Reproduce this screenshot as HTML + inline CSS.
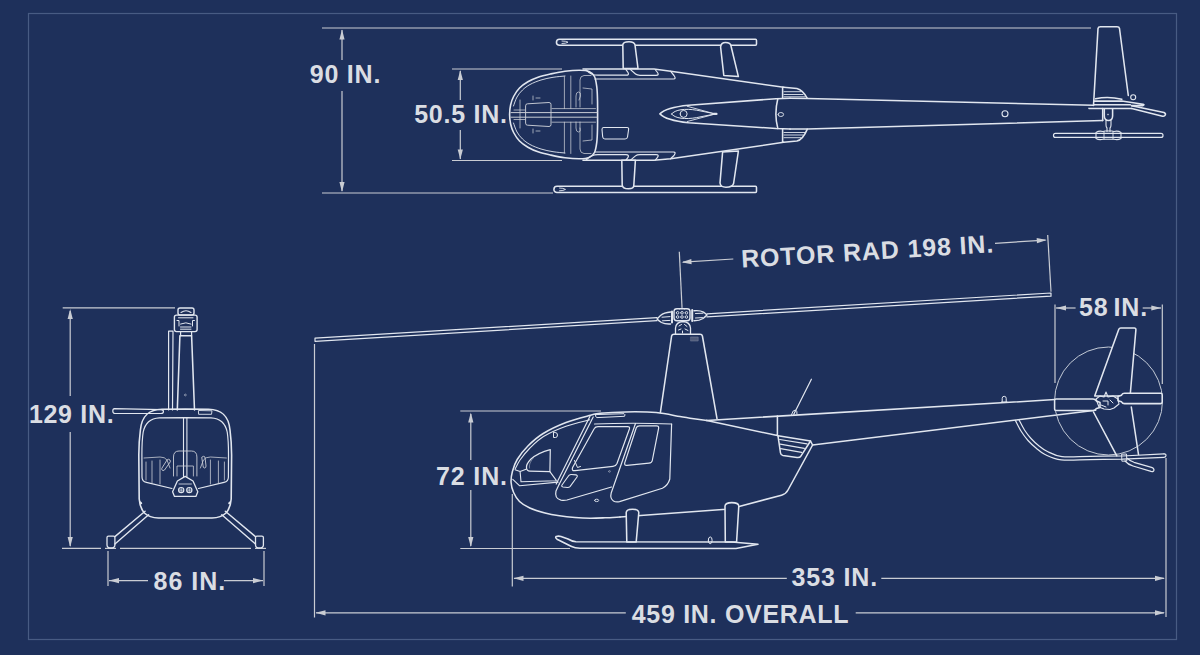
<!DOCTYPE html>
<html><head><meta charset="utf-8"><style>
html,body{margin:0;padding:0;background:#1e305b;}
svg{display:block;}
text{font-family:"Liberation Sans",sans-serif;font-weight:bold;}
</style></head><body>
<svg width="1200" height="655" viewBox="0 0 1200 655">
<rect width="1200" height="655" fill="#1e305b"/>
<rect x="28.5" y="13.5" width="1148" height="626" fill="none" stroke="#485b83" stroke-width="1.2"/>
<line x1="322" y1="28" x2="1091" y2="28" stroke="#c9ccd3" stroke-width="1.2"/>
<line x1="322" y1="193" x2="553" y2="193" stroke="#c9ccd3" stroke-width="1.2"/>
<line x1="342" y1="30" x2="342" y2="60" stroke="#c9ccd3" stroke-width="1.2"/>
<polygon points="342.00,29.50 344.60,39.50 339.40,39.50" fill="#c9ccd3"/>
<line x1="342" y1="91" x2="342" y2="191" stroke="#c9ccd3" stroke-width="1.2"/>
<polygon points="342.00,192.00 339.40,182.00 344.60,182.00" fill="#c9ccd3"/>
<text x="309.7" y="83" font-size="25" letter-spacing="0.8" text-anchor="start" fill="#dadde3">90 IN.</text>
<line x1="452" y1="69" x2="562" y2="69" stroke="#c9ccd3" stroke-width="1.2"/>
<line x1="452" y1="160.5" x2="562" y2="160.5" stroke="#c9ccd3" stroke-width="1.2"/>
<line x1="460.3" y1="71" x2="460.3" y2="100" stroke="#c9ccd3" stroke-width="1.2"/>
<polygon points="460.30,70.00 462.90,80.00 457.70,80.00" fill="#c9ccd3"/>
<line x1="460.3" y1="130" x2="460.3" y2="159" stroke="#c9ccd3" stroke-width="1.2"/>
<polygon points="460.30,159.50 457.70,149.50 462.90,149.50" fill="#c9ccd3"/>
<text x="414.2" y="123.4" font-size="25" letter-spacing="0.74" text-anchor="start" fill="#dadde3">50.5 IN.</text>
<line x1="62.7" y1="307.8" x2="175" y2="307.8" stroke="#c9ccd3" stroke-width="1.2"/>
<line x1="62" y1="548.4" x2="101" y2="548.4" stroke="#c9ccd3" stroke-width="1.2"/>
<line x1="105" y1="548.4" x2="116" y2="548.4" stroke="#c9ccd3" stroke-width="1.2"/>
<line x1="120" y1="548.4" x2="251" y2="548.4" stroke="#c9ccd3" stroke-width="1.2"/>
<line x1="255" y1="548.4" x2="266" y2="548.4" stroke="#c9ccd3" stroke-width="1.2"/>
<line x1="70.2" y1="311" x2="70.2" y2="396" stroke="#c9ccd3" stroke-width="1.2"/>
<polygon points="70.20,309.00 72.80,319.00 67.60,319.00" fill="#c9ccd3"/>
<line x1="70.2" y1="432" x2="70.2" y2="546" stroke="#c9ccd3" stroke-width="1.2"/>
<polygon points="70.20,547.00 67.60,537.00 72.80,537.00" fill="#c9ccd3"/>
<text x="28.9" y="423.3" font-size="25" letter-spacing="0.68" text-anchor="start" fill="#dadde3">129 IN.</text>
<line x1="108" y1="551" x2="108" y2="586" stroke="#c9ccd3" stroke-width="1.2"/>
<line x1="264" y1="551" x2="264" y2="586" stroke="#c9ccd3" stroke-width="1.2"/>
<line x1="109" y1="580.6" x2="148" y2="580.6" stroke="#c9ccd3" stroke-width="1.2"/>
<polygon points="109.00,580.60 119.00,578.00 119.00,583.20" fill="#c9ccd3"/>
<line x1="224" y1="580.6" x2="263" y2="580.6" stroke="#c9ccd3" stroke-width="1.2"/>
<polygon points="263.00,580.60 253.00,583.20 253.00,578.00" fill="#c9ccd3"/>
<text x="153.6" y="590" font-size="25" letter-spacing="1.0" text-anchor="start" fill="#dadde3">86 IN.</text>
<line x1="460.3" y1="411" x2="601" y2="411" stroke="#c9ccd3" stroke-width="1.2"/>
<line x1="460.3" y1="548.5" x2="570" y2="548.5" stroke="#c9ccd3" stroke-width="1.2"/>
<line x1="470.8" y1="414" x2="470.8" y2="460" stroke="#c9ccd3" stroke-width="1.2"/>
<polygon points="470.80,412.50 473.40,422.50 468.20,422.50" fill="#c9ccd3"/>
<line x1="470.8" y1="490" x2="470.8" y2="546" stroke="#c9ccd3" stroke-width="1.2"/>
<polygon points="470.80,547.00 468.20,537.00 473.40,537.00" fill="#c9ccd3"/>
<text x="436" y="484.7" font-size="25" letter-spacing="0.86" text-anchor="start" fill="#dadde3">72 IN.</text>
<line x1="512.3" y1="494" x2="512.3" y2="586.4" stroke="#c9ccd3" stroke-width="1.2"/>
<line x1="1166" y1="458" x2="1166" y2="617" stroke="#c9ccd3" stroke-width="1.2"/>
<line x1="514" y1="578.3" x2="786.8" y2="578.3" stroke="#c9ccd3" stroke-width="1.2"/>
<polygon points="513.50,578.30 523.50,575.70 523.50,580.90" fill="#c9ccd3"/>
<line x1="881.3" y1="578.3" x2="1164" y2="578.3" stroke="#c9ccd3" stroke-width="1.2"/>
<polygon points="1165.00,578.30 1155.00,580.90 1155.00,575.70" fill="#c9ccd3"/>
<text x="791.5" y="586.2" font-size="25" letter-spacing="0.83" text-anchor="start" fill="#dadde3">353 IN.</text>
<line x1="314.5" y1="344" x2="314.5" y2="617.6" stroke="#c9ccd3" stroke-width="1.2"/>
<line x1="316" y1="612.8" x2="625.8" y2="612.8" stroke="#c9ccd3" stroke-width="1.2"/>
<polygon points="315.50,612.80 325.50,610.20 325.50,615.40" fill="#c9ccd3"/>
<line x1="855.7" y1="612.8" x2="1164" y2="612.8" stroke="#c9ccd3" stroke-width="1.2"/>
<polygon points="1165.00,612.80 1155.00,615.40 1155.00,610.20" fill="#c9ccd3"/>
<text x="631.7" y="622.7" font-size="25" letter-spacing="0.71" text-anchor="start" fill="#dadde3">459 IN. OVERALL</text>
<line x1="1055" y1="304.5" x2="1055" y2="383" stroke="#c9ccd3" stroke-width="1.2"/>
<line x1="1162.3" y1="304.5" x2="1162.3" y2="384" stroke="#c9ccd3" stroke-width="1.2"/>
<line x1="1056" y1="308" x2="1075.6" y2="308" stroke="#c9ccd3" stroke-width="1.2"/>
<polygon points="1056.00,308.00 1066.00,305.40 1066.00,310.60" fill="#c9ccd3"/>
<line x1="1142.7" y1="308" x2="1161" y2="308" stroke="#c9ccd3" stroke-width="1.2"/>
<polygon points="1161.30,308.00 1151.30,310.60 1151.30,305.40" fill="#c9ccd3"/>
<text x="1079.1" y="316.4" font-size="25" letter-spacing="0.8" word-spacing="-2.7" text-anchor="start" fill="#dadde3">58 IN.</text>
<line x1="679.3" y1="251.7" x2="682" y2="307" stroke="#c9ccd3" stroke-width="1.2"/>
<line x1="1047.7" y1="235" x2="1051" y2="291.7" stroke="#c9ccd3" stroke-width="1.2"/>
<line x1="683" y1="262.2" x2="733.3" y2="259" stroke="#c9ccd3" stroke-width="1.2"/>
<polygon points="681.50,262.30 691.32,259.10 691.64,264.29" fill="#c9ccd3"/>
<line x1="995" y1="243.3" x2="1045.5" y2="240.1" stroke="#c9ccd3" stroke-width="1.2"/>
<polygon points="1046.80,240.00 1036.98,243.20 1036.66,238.01" fill="#c9ccd3"/>
<text x="741.7" y="267.6" font-size="25" letter-spacing="0.87" text-anchor="start" fill="#dadde3" transform="rotate(-3.48 741.7 267.6)">ROTOR RAD 198 IN.</text>
<path d="M559.5,39.2 H755.5 Q756.5,39.2 756.5,40.5 V44 Q756.5,45.3 755.5,45.3 H559.5 A3.05,3.05 0 0 1 559.5,39.2 Z" fill="none" stroke="#e1e6ef" stroke-width="1.55" stroke-linejoin="round" stroke-linecap="round"/>
<path d="M562,41 Q566,41 568,42.2 Q566,43.5 562,43.5" fill="none" stroke="#e1e6ef" stroke-width="0.9" stroke-linejoin="round" stroke-linecap="round"/>
<path d="M557,186.3 H755.5 Q756.5,186.3 756.5,187.5 V191.3 Q756.5,192.5 755.5,192.5 H557 A3.1,3.1 0 0 1 557,186.3 Z" fill="none" stroke="#e1e6ef" stroke-width="1.55" stroke-linejoin="round" stroke-linecap="round"/>
<path d="M559.5,188 Q563.5,188 565.5,189.4 Q563.5,190.8 559.5,190.8" fill="none" stroke="#e1e6ef" stroke-width="0.9" stroke-linejoin="round" stroke-linecap="round"/>
<path d="M623.2,68.5 L622.8,45 Q623,41.8 629,41.8 Q634.5,41.8 635,45 L638,68.5 Z" fill="#1e305b" stroke="#e1e6ef" stroke-width="1.55" stroke-linejoin="round" stroke-linecap="round"/>
<path d="M723.8,75.4 L720.6,47 Q721,42.5 725.5,42.5 Q730.5,42.5 731,46 L738.4,76.6 Z" fill="#1e305b" stroke="#e1e6ef" stroke-width="1.55" stroke-linejoin="round" stroke-linecap="round"/>
<path d="M621.8,160.3 L622.2,185 Q622.5,188.8 628.5,188.8 Q633.8,188.8 633.8,185.5 L635.4,160.3 Z" fill="#1e305b" stroke="#e1e6ef" stroke-width="1.55" stroke-linejoin="round" stroke-linecap="round"/>
<path d="M722.6,152 L720,183 Q720.5,187.2 726,187.2 Q732.5,187.2 733.6,183.5 L738.4,151 Z" fill="#1e305b" stroke="#e1e6ef" stroke-width="1.55" stroke-linejoin="round" stroke-linecap="round"/>
<path d="M597.60,114.50 C597.60,109.67 597.63,104.58 597.50,100.00 C597.37,95.42 597.30,90.92 596.80,87.00 C596.30,83.08 595.80,79.08 594.50,76.50 C593.20,73.92 591.42,72.55 589.00,71.50 C586.58,70.45 584.00,70.25 580.00,70.20 C576.00,70.15 569.87,70.58 565.00,71.20 C560.13,71.82 555.30,72.90 550.80,73.90 C546.30,74.90 541.82,75.88 538.00,77.20 C534.18,78.52 530.98,80.00 527.90,81.80 C524.82,83.60 521.88,85.55 519.50,88.00 C517.12,90.45 515.08,93.67 513.60,96.50 C512.12,99.33 511.27,102.00 510.60,105.00 C509.93,108.00 509.60,111.33 509.60,114.50 C509.60,117.67 509.93,121.00 510.60,124.00 C511.27,127.00 512.12,129.67 513.60,132.50 C515.08,135.33 517.12,138.55 519.50,141.00 C521.88,143.45 524.82,145.40 527.90,147.20 C530.98,149.00 534.18,150.48 538.00,151.80 C541.82,153.12 546.30,154.10 550.80,155.10 C555.30,156.10 560.13,157.18 565.00,157.80 C569.87,158.42 576.00,158.85 580.00,158.80 C584.00,158.75 586.58,158.55 589.00,157.50 C591.42,156.45 593.20,155.08 594.50,152.50 C595.80,149.92 596.30,145.92 596.80,142.00 C597.30,138.08 597.37,133.58 597.50,129.00 C597.63,124.42 597.60,119.33 597.60,114.50 Z" fill="none" stroke="#e1e6ef" stroke-width="1.6" stroke-linejoin="round" stroke-linecap="round"/>
<path d="M513.50,106.00 C514.08,104.50 515.50,99.67 517.00,97.00 C518.50,94.33 520.33,92.08 522.50,90.00 C524.67,87.92 526.92,86.17 530.00,84.50 C533.08,82.83 537.17,81.20 541.00,80.00 C544.83,78.80 549.00,77.97 553.00,77.30 C557.00,76.63 563.00,76.22 565.00,76.00" fill="none" stroke="#e1e6ef" stroke-width="0.9" stroke-linejoin="round" stroke-linecap="round"/>
<path d="M513.50,123.00 C514.08,124.50 515.50,129.33 517.00,132.00 C518.50,134.67 520.33,136.92 522.50,139.00 C524.67,141.08 526.92,142.83 530.00,144.50 C533.08,146.17 537.17,147.80 541.00,149.00 C544.83,150.20 549.00,151.03 553.00,151.70 C557.00,152.37 563.00,152.78 565.00,153.00" fill="none" stroke="#e1e6ef" stroke-width="0.9" stroke-linejoin="round" stroke-linecap="round"/>
<path d="M583,69 L654,69 L670.7,71.2 L783.7,87.3" fill="none" stroke="#e1e6ef" stroke-width="1.55" stroke-linejoin="round" stroke-linecap="round"/>
<path d="M583,160.3 L654,160.3 L670.7,158.7 L783.7,142.3" fill="none" stroke="#e1e6ef" stroke-width="1.55" stroke-linejoin="round" stroke-linecap="round"/>
<path d="M586,69.8 Q591,75.2 598,75.2 L626,75.2 Q629.5,75.2 628,72.5 L626,69.6  M630.5,69.6 L635.5,74 Q637,75.3 640,75.3 L656,75.3 Q659.5,75.3 657.5,72.5 L655.5,70  M595,79 L673.5,79 Q676.5,79 674,75.5 L670.5,71.2" fill="none" stroke="#e1e6ef" stroke-width="1.2" stroke-linejoin="round" stroke-linecap="round"/>
<path d="M586,160.1 Q591,154.7 598,154.7 L626,154.7 Q629.5,154.7 628,157.4 L626,160.1  M630.5,160.1 L635.5,155.9 Q637,154.6 640,154.6 L656,154.6 Q659.5,154.6 657.5,157.4 L655.5,159.9  M595,152 L673.5,152 Q676.5,152 674,155.5 L670.5,158.8" fill="none" stroke="#e1e6ef" stroke-width="1.2" stroke-linejoin="round" stroke-linecap="round"/>
<path d="M790,98.2 L776,98.75 L688.5,105.2 C675,106.5 665,108.5 659.9,113.9 C665,119.3 675,121.3 688.5,122.7 L776,128.5 L790,129.1" fill="none" stroke="#e1e6ef" stroke-width="1.55" stroke-linejoin="round" stroke-linecap="round"/>
<path d="M777.8,98.75 Q774,114 777.8,128.5" fill="none" stroke="#e1e6ef" stroke-width="1.55" stroke-linejoin="round" stroke-linecap="round"/>
<path d="M671.6,114 C675,109.5 685,108.3 696.7,110.2 L715.3,113.9 L696.7,117.6 C685,119.6 675,118.5 671.6,114 Z" fill="none" stroke="#e1e6ef" stroke-width="1.0" stroke-linejoin="round" stroke-linecap="round"/>
<path d="M687.3,106.3 L715.3,114 L687.3,121.5" fill="none" stroke="#e1e6ef" stroke-width="0.9" stroke-linejoin="round" stroke-linecap="round"/>
<path d="M680.1,113.9 a3.5,3.5 0 1 0 7,0 a3.5,3.5 0 1 0 -7,0" fill="none" stroke="#e1e6ef" stroke-width="1.0" stroke-linejoin="round" stroke-linecap="round"/>
<path d="M713.5,113.9 L716.5,113.9" fill="none" stroke="#e1e6ef" stroke-width="2.2" stroke-linejoin="round" stroke-linecap="round"/>
<path d="M778,114.5 a2.8,2 0 1 0 5.6,0 a2.8,2 0 1 0 -5.6,0" fill="none" stroke="#e1e6ef" stroke-width="0.9" stroke-linejoin="round" stroke-linecap="round"/>
<path d="M782.6,87.3 L782.6,98.3 M783.7,87.3 L796.9,88.4 Q803,90 807.3,98.3" fill="none" stroke="#e1e6ef" stroke-width="1.55" stroke-linejoin="round" stroke-linecap="round"/>
<path d="M784,91.7 L801,91.7 M784,94.5 L803,94.5 M784,96.8 L805,96.8" fill="none" stroke="#e1e6ef" stroke-width="0.9" stroke-linejoin="round" stroke-linecap="round"/>
<path d="M782.6,129.1 L782.6,141.7 M783.7,142.2 L796.9,141.1 Q803,139.5 807.3,129.1" fill="none" stroke="#e1e6ef" stroke-width="1.55" stroke-linejoin="round" stroke-linecap="round"/>
<path d="M784,132.5 L805,132.5 M784,135 L803,135 M784,137.7 L801,137.7" fill="none" stroke="#e1e6ef" stroke-width="0.9" stroke-linejoin="round" stroke-linecap="round"/>
<path d="M790,98.2 L807.3,98.5 L1093.5,105.3" fill="none" stroke="#e1e6ef" stroke-width="1.55" stroke-linejoin="round" stroke-linecap="round"/>
<path d="M790,129.1 L807.3,128.9 L1102.7,120.6" fill="none" stroke="#e1e6ef" stroke-width="1.55" stroke-linejoin="round" stroke-linecap="round"/>
<path d="M1002,113.8 a3,3 0 1 0 6,0 a3,3 0 1 0 -6,0" fill="none" stroke="#e1e6ef" stroke-width="1.1" stroke-linejoin="round" stroke-linecap="round"/>
<path d="M1093.5,105.5 L1098,28.5 Q1098.3,26.7 1100.5,26.7 L1117,26.7 Q1119.2,26.7 1119.5,28.5 L1128.3,95.5" fill="none" stroke="#e1e6ef" stroke-width="1.55" stroke-linejoin="round" stroke-linecap="round"/>
<path d="M1095.6,98.8 Q1108,95.8 1121.8,99.3" fill="none" stroke="#e1e6ef" stroke-width="1.55" stroke-linejoin="round" stroke-linecap="round"/>
<path d="M1094.2,101.1 L1121.8,101.1 L1143,104.2 Q1145,104.8 1143,105.6 L1131.5,105.6 M1094.2,104.8 L1130.3,104.8" fill="none" stroke="#e1e6ef" stroke-width="1.55" stroke-linejoin="round" stroke-linecap="round"/>
<path d="M1089,108.4 L1131.7,108.5" fill="none" stroke="#e1e6ef" stroke-width="1.55" stroke-linejoin="round" stroke-linecap="round"/>
<path d="M1131.7,105.7 L1164,112.5 Q1166,113.4 1165.3,115 Q1164.6,116.6 1162.5,116.2 L1131.7,108.5" fill="none" stroke="#e1e6ef" stroke-width="1.55" stroke-linejoin="round" stroke-linecap="round"/>
<path d="M1130.7,97.2 a2.5,2.5 0 1 0 5,0 a2.5,2.5 0 1 0 -5,0" fill="none" stroke="#e1e6ef" stroke-width="1.1" stroke-linejoin="round" stroke-linecap="round"/>
<path d="M1102.7,108.5 L1102.7,120.6" fill="none" stroke="#e1e6ef" stroke-width="1.55" stroke-linejoin="round" stroke-linecap="round"/>
<path d="M1104.3,108.7 L1104.3,116 Q1104.5,120.5 1108.5,120.5 Q1112.5,120.5 1112.6,116 L1112.6,108.7" fill="none" stroke="#e1e6ef" stroke-width="1.55" stroke-linejoin="round" stroke-linecap="round"/>
<path d="M1106,120.5 L1106,125 Q1106,127 1107,128 L1107,131.5 M1111,120.5 L1111,125 Q1111,127 1110,128 L1110,131.5" fill="none" stroke="#e1e6ef" stroke-width="1.1" stroke-linejoin="round" stroke-linecap="round"/>
<path d="M1107.6,114.5 l0.8,0" fill="none" stroke="#9aa3b8" stroke-width="1.5" stroke-linejoin="round" stroke-linecap="round"/>
<path d="M1055.5,133.4 H1161 Q1163,133.4 1163,135.4 Q1163,137.4 1161,137.4 H1055.5 Q1053.5,137.4 1053.5,135.4 Q1053.5,133.4 1055.5,133.4 Z" fill="none" stroke="#e1e6ef" stroke-width="1.2" stroke-linejoin="round" stroke-linecap="round"/>
<path d="M1096,132.5 Q1099,130.5 1103,131.5 L1105,131 L1112,131 L1114,131.5 Q1118,130.5 1121,132.5 L1121,138.5 Q1118,140.3 1114,139.3 L1103,139.3 Q1099,140.3 1096,138.5 Z" fill="none" stroke="#e1e6ef" stroke-width="1.1" stroke-linejoin="round" stroke-linecap="round"/>
<path d="M1104,131.5 L1104,139 M1113,131.5 L1113,139" fill="none" stroke="#e1e6ef" stroke-width="0.9" stroke-linejoin="round" stroke-linecap="round"/>
<path d="M552,108.6 L595.5,108.6 M552,122.2 L595.5,122.2" fill="none" stroke="#c9cdd6" stroke-width="0.75" stroke-linejoin="round" stroke-linecap="round"/>
<path d="M511,112.6 L597,112.6 M511,117.2 L597,117.2" fill="none" stroke="#c9cdd6" stroke-width="1.0" stroke-linejoin="round" stroke-linecap="round"/>
<path d="M525.6,105.5 Q525.6,103.8 527.5,103.8 L549,102.5 Q551,102.5 551,104.5 L551,124.5 Q551,126.5 549,126.5 L527.5,125.2 Q525.6,125.2 525.6,123.5 Z" fill="none" stroke="#c9cdd6" stroke-width="0.95" stroke-linejoin="round" stroke-linecap="round"/>
<path d="M564.4,76.6 L564.4,108.6 M570.8,76 L570.8,108.6 M564.4,122.2 L564.4,153 M570.8,122.2 L570.8,153.5" fill="none" stroke="#c9cdd6" stroke-width="0.75" stroke-linejoin="round" stroke-linecap="round"/>
<path d="M580,107 L580,80 Q580,76 584,75.5 L591,75.5 M580,122 L580,149 Q580,153 584,153.5 L591,153.5" fill="none" stroke="#c9cdd6" stroke-width="0.75" stroke-linejoin="round" stroke-linecap="round"/>
<path d="M583,88 L592,89 L592,104 M583,141 L592,140 L592,125" fill="none" stroke="#c9cdd6" stroke-width="0.75" stroke-linejoin="round" stroke-linecap="round"/>
<path d="M576,107 L576,96 Q576,92 578.5,92 Q581,92 580.5,96 L579,100 M576,122 L576,128 Q576,132 578.5,132 Q581,132 580,128" fill="none" stroke="#c9cdd6" stroke-width="0.75" stroke-linejoin="round" stroke-linecap="round"/>
<path d="M533,100 L533,96 M536,98 L540,98 M533,129 L533,133 M536,131 L540,131" fill="none" stroke="#c9cdd6" stroke-width="0.75" stroke-linejoin="round" stroke-linecap="round"/>
<path d="M520,100 L520,128 M514,110 L525,110 M514,119.5 L525,119.5" fill="none" stroke="#c9cdd6" stroke-width="0.75" stroke-linejoin="round" stroke-linecap="round"/>
<path d="M603.5,127.5 L627,127.5 Q629,127.5 628.6,129.5 L627.5,137 Q627.2,139 625,139 L605,139 Q603,139 602.7,137 L602,129.5 Q602,127.5 603.5,127.5 Z" fill="none" stroke="#e1e6ef" stroke-width="1.1" stroke-linejoin="round" stroke-linecap="round"/>
<path d="M706.80,420.40 C704.00,420.03 694.47,418.83 690.00,418.20 C685.53,417.57 685.62,417.55 680.00,416.60 C674.38,415.65 665.33,413.28 656.30,412.50 C647.27,411.72 635.18,411.78 625.80,411.90 C616.42,412.02 605.88,412.65 600.00,413.20 C594.12,413.75 596.17,413.65 590.50,415.20 C584.83,416.75 573.88,419.45 566.00,422.50 C558.12,425.55 549.55,429.58 543.20,433.50 C536.85,437.42 532.23,441.67 527.90,446.00 C523.57,450.33 519.78,455.25 517.20,459.50 C514.62,463.75 513.42,467.67 512.40,471.50 C511.38,475.33 510.90,479.00 511.10,482.50 C511.30,486.00 512.20,489.33 513.60,492.50 C515.00,495.67 516.80,498.92 519.50,501.50 C522.20,504.08 525.55,506.08 529.80,508.00 C534.05,509.92 540.05,511.70 545.00,513.00 C549.95,514.30 554.50,515.05 559.50,515.80 C564.50,516.55 569.92,517.10 575.00,517.50 C580.08,517.90 585.00,518.15 590.00,518.20 C595.00,518.25 600.00,518.00 605.00,517.80 C610.00,517.60 617.50,517.13 620.00,517.00" fill="none" stroke="#e1e6ef" stroke-width="1.55" stroke-linejoin="round" stroke-linecap="round"/>
<path d="M620,517 L726,509.3 L740,506.2 L781.5,495.2 Q786,494 788,490 L812.6,445" fill="none" stroke="#e1e6ef" stroke-width="1.55" stroke-linejoin="round" stroke-linecap="round"/>
<path d="M706.8,420.4 L1055,399.6" fill="none" stroke="#e1e6ef" stroke-width="1.55" stroke-linejoin="round" stroke-linecap="round"/>
<path d="M810.5,441 L812.6,445 L1095.7,410.3" fill="none" stroke="#e1e6ef" stroke-width="1.55" stroke-linejoin="round" stroke-linecap="round"/>
<path d="M706.8,420.4 L777.4,435.6 M777.4,416 L777.4,435.6" fill="none" stroke="#e1e6ef" stroke-width="1.55" stroke-linejoin="round" stroke-linecap="round"/>
<path d="M778,435.8 L810.5,441 L800.7,456.3 Q799.8,457.7 797,457.4 L783,455.6 Q780.8,455.2 780.5,453 Z" fill="none" stroke="#e1e6ef" stroke-width="1.55" stroke-linejoin="round" stroke-linecap="round"/>
<path d="M779.7,439.5 L807,443.9 M780.2,444.1 L804.3,448.4 M780.6,448.7 L801.6,452.3" fill="none" stroke="#e1e6ef" stroke-width="1.2" stroke-linejoin="round" stroke-linecap="round"/>
<path d="M793.8,414.3 L811.4,379.2" fill="none" stroke="#e1e6ef" stroke-width="1.2" stroke-linejoin="round" stroke-linecap="round"/>
<path d="M791.5,414.5 Q793,409.5 795.5,410 Q797.5,411 797,414" fill="none" stroke="#e1e6ef" stroke-width="1.0" stroke-linejoin="round" stroke-linecap="round"/>
<path d="M660.4,412.4 L671.6,336 Q672,334.3 674,334.3 L700,334.3 Q702,334.3 702.4,336 L717,418.7" fill="none" stroke="#e1e6ef" stroke-width="1.55" stroke-linejoin="round" stroke-linecap="round"/>
<path d="M690.8,337 h7.4 v4 h-7.4 Z" fill="#4f5b7a" stroke="#7d87a0" stroke-width="0.5" stroke-linejoin="round" stroke-linecap="round"/>
<path d="M675.5,334.3 L675.5,328 Q676,322 683,321.5 Q690,322 690.5,328 L690.5,334.3" fill="none" stroke="#e1e6ef" stroke-width="1.3" stroke-linejoin="round" stroke-linecap="round"/>
<path d="M679,326 L681.5,324.5 M684.5,324.5 L687,326.5 M678.5,330 L681,329 M685,329 L688,330.5 M682.5,331 l0,2" fill="none" stroke="#e1e6ef" stroke-width="1.0" stroke-linejoin="round" stroke-linecap="round"/>
<path d="M674,318 L674,311.5 Q674,308.8 677,308.8 L687,308.8 Q690,308.8 690,311.5 L690,318 Q690,320.7 687,320.7 L677,320.7 Q674,320.7 674,318 Z" fill="none" stroke="#e1e6ef" stroke-width="1.4" stroke-linejoin="round" stroke-linecap="round"/>
<path d="M676.3,312.8 a1.3,1.3 0 1 0 2.6,0 a1.3,1.3 0 1 0 -2.6,0 M680.7,312.8 a1.3,1.3 0 1 0 2.6,0 a1.3,1.3 0 1 0 -2.6,0 M685.1,312.8 a1.3,1.3 0 1 0 2.6,0 a1.3,1.3 0 1 0 -2.6,0 M676.3,317 a1.3,1.3 0 1 0 2.6,0 a1.3,1.3 0 1 0 -2.6,0 M680.7,317 a1.3,1.3 0 1 0 2.6,0 a1.3,1.3 0 1 0 -2.6,0 M685.1,317 a1.3,1.3 0 1 0 2.6,0 a1.3,1.3 0 1 0 -2.6,0" fill="none" stroke="#e1e6ef" stroke-width="0.9" stroke-linejoin="round" stroke-linecap="round"/>
<path d="M679.5,308.8 Q682,306.5 684.5,308.8" fill="none" stroke="#e1e6ef" stroke-width="1.0" stroke-linejoin="round" stroke-linecap="round"/>
<path d="M672,311.5 L672,322.5 M692.2,310 L692.2,321" fill="none" stroke="#e1e6ef" stroke-width="2.0" stroke-linejoin="round" stroke-linecap="round"/>
<path d="M670.5,312 Q664,312.5 660.5,315.5 Q658.5,317.5 657,319 Q659,321 661.5,322.5 Q665,324.3 670.5,324" fill="none" stroke="#e1e6ef" stroke-width="1.4" stroke-linejoin="round" stroke-linecap="round"/>
<path d="M662,317.2 L670,316.6 M662.5,320.8 L670,320.4" fill="none" stroke="#e1e6ef" stroke-width="1.0" stroke-linejoin="round" stroke-linecap="round"/>
<path d="M694,310.8 Q700,310.2 703.5,312.2 Q705.5,313.5 707,315 Q705.5,316.5 703,318.5 Q699.5,320.8 694,320.8" fill="none" stroke="#e1e6ef" stroke-width="1.4" stroke-linejoin="round" stroke-linecap="round"/>
<path d="M695.5,313.5 L703,313.2 M695.5,318 L702.5,317.6" fill="none" stroke="#e1e6ef" stroke-width="1.0" stroke-linejoin="round" stroke-linecap="round"/>
<path d="M315,338.2 L657,317.6 M315,341.3 L657,320.7 M315,338.2 L315,341.3" fill="none" stroke="#e1e6ef" stroke-width="1.2" stroke-linejoin="round" stroke-linecap="round"/>
<path d="M707,313.8 L1051,293 M707,316.9 L1051,296.1 M1051,293 L1051,296.1" fill="none" stroke="#e1e6ef" stroke-width="1.2" stroke-linejoin="round" stroke-linecap="round"/>
<path d="M589.70,419.80 C585.75,420.87 573.70,423.42 566.00,426.20 C558.30,428.98 549.58,432.78 543.50,436.50 C537.42,440.22 533.42,444.58 529.50,448.50 C525.58,452.42 522.38,456.58 520.00,460.00 C517.62,463.42 516.00,467.50 515.20,469.00" fill="none" stroke="#e1e6ef" stroke-width="1.1" stroke-linejoin="round" stroke-linecap="round"/>
<path d="M550.3,449.6 C543,451.5 536,454.5 531,459 C527,463 526,466 526.5,468.4 Q527,471 529.7,471.1 L549.9,471.6 Z" fill="none" stroke="#e1e6ef" stroke-width="1.2" stroke-linejoin="round" stroke-linecap="round"/>
<path d="M533,458.5 C530,462 529,465 529.5,468" fill="none" stroke="#9aa3b8" stroke-width="0.7" stroke-linejoin="round" stroke-linecap="round"/>
<path d="M549.9,471.6 L556.3,480.3 M515.1,469.8 L520.1,471.6 L526.1,469.3 M520.1,471.6 L521,481.7 L556.3,480.7 M512.8,479.4 L519.7,485.8 L558.1,482.1" fill="none" stroke="#e1e6ef" stroke-width="1.1" stroke-linejoin="round" stroke-linecap="round"/>
<path d="M553.5,432.5 L553.5,437.5 L555.5,437.5 Q557.5,437.5 557.5,435 Q557.5,432.5 555.5,432.5 Z" fill="none" stroke="#e1e6ef" stroke-width="1.0" stroke-linejoin="round" stroke-linecap="round"/>
<path d="M590,416.2 L556.2,484 M593.2,417 L559.3,484" fill="none" stroke="#e1e6ef" stroke-width="1.2" stroke-linejoin="round" stroke-linecap="round"/>
<path d="M559.3,484 L556,491 Q554.2,498.5 561,500.2 Q564,500.8 567,500 L611.5,487" fill="none" stroke="#e1e6ef" stroke-width="1.2" stroke-linejoin="round" stroke-linecap="round"/>
<path d="M594.5,424 Q633,422.5 671.6,424" fill="none" stroke="#e1e6ef" stroke-width="1.2" stroke-linejoin="round" stroke-linecap="round"/>
<path d="M635.5,423.5 L611.2,493 Q609.8,498.5 613.5,501 Q616,502.5 619.5,501.6 L662.4,488.2 Q668,485.5 669.8,479 L671.6,424" fill="none" stroke="#e1e6ef" stroke-width="1.2" stroke-linejoin="round" stroke-linecap="round"/>
<path d="M598,426.6 L627.5,426.6 Q630.2,426.6 629.4,429 L617,463.5 Q616,466 613,466.3 L575,470.6 Q571.3,471 572.6,467.5 L594.3,428.5 Q595.3,426.6 598,426.6 Z" fill="none" stroke="#e1e6ef" stroke-width="1.2" stroke-linejoin="round" stroke-linecap="round"/>
<path d="M639.5,425.8 L656.5,425.8 Q659,425.8 658.6,428.3 L652.3,460.5 Q651.8,463 649,463.2 L627,465.3 Q624,465.6 624.8,462.6 L636.3,427.8 Q637,425.8 639.5,425.8 Z" fill="none" stroke="#e1e6ef" stroke-width="1.2" stroke-linejoin="round" stroke-linecap="round"/>
<path d="M595.5,414.6 L624,413.7 Q625.8,414.5 624.5,416.3 L597,417.6 Q595,417.2 595.5,414.6 Z" fill="none" stroke="#e1e6ef" stroke-width="1.0" stroke-linejoin="round" stroke-linecap="round"/>
<path d="M571.5,474.5 L576,474.9 Q578,475.3 577,477 L570,486.6 Q569,487.6 567.5,487.5 L563,487 Q561,486.6 562,485 L569,475.3 Q570,474.4 571.5,474.5 Z" fill="none" stroke="#e1e6ef" stroke-width="1.1" stroke-linejoin="round" stroke-linecap="round"/>
<path d="M574.5,460.5 L577.5,467.5 L580.5,466.5" fill="none" stroke="#e1e6ef" stroke-width="1.0" stroke-linejoin="round" stroke-linecap="round"/>
<path d="M594.5,500.4 a2.1,1.2 0 1 0 4.2,0 a2.1,1.2 0 1 0 -4.2,0" fill="none" stroke="#e1e6ef" stroke-width="0.9" stroke-linejoin="round" stroke-linecap="round"/>
<path d="M608.6,471.4 a0.9,0.9 0 1 0 1.8,0 a0.9,0.9 0 1 0 -1.8,0" fill="none" stroke="#9aa3b8" stroke-width="0.7" stroke-linejoin="round" stroke-linecap="round"/>
<path d="M626.8,541.9 L626.2,512.5 Q626.5,509.3 632.5,509.3 Q638.5,509.3 638.8,512.5 L636.2,541.9 Z" fill="#1e305b" stroke="#e1e6ef" stroke-width="1.55" stroke-linejoin="round" stroke-linecap="round"/>
<path d="M725.3,541.9 L725,506 Q725.5,502.6 731.8,502.6 Q738.6,502.6 738.8,506 L736.6,541.9 Z" fill="#1e305b" stroke="#e1e6ef" stroke-width="1.55" stroke-linejoin="round" stroke-linecap="round"/>
<path d="M556,536.6 Q558,535.8 561,536.4 L568,539 Q572,541.5 576,541.7 L732,541.9 L758,544.3 M556,536.6 Q555,537.7 557,539.2 L571,546.3 Q575,548.3 580,548.3 L736,548.4 L758,544.3" fill="none" stroke="#e1e6ef" stroke-width="1.55" stroke-linejoin="round" stroke-linecap="round"/>
<path d="M708.3,540.3 a1.9,3.4 0 1 0 3.8,0 a1.9,3.4 0 1 0 -3.8,0" fill="none" stroke="#e1e6ef" stroke-width="1.0" stroke-linejoin="round" stroke-linecap="round"/>
<path d="M1054.5,401 a54,54 0 1 0 108,0 a54,54 0 1 0 -108,0" fill="none" stroke="#c3cad6" stroke-width="1.0" stroke-linejoin="round" stroke-linecap="round"/>
<path d="M1094.7,396 L1118.8,329.3 Q1119.3,328 1120.8,328 L1134.3,328 Q1136,328 1135.9,329.8 L1130.1,396 Z" fill="#1e305b" stroke="#e1e6ef" stroke-width="1.55" stroke-linejoin="round" stroke-linecap="round"/>
<path d="M1093.5,412 L1116.8,455.8 M1138.5,454.5 L1131.3,407" fill="none" stroke="#e1e6ef" stroke-width="1.55" stroke-linejoin="round" stroke-linecap="round"/>
<path d="M1056,399 L1093,399 Q1095,399 1096.5,401 L1100,402.5 L1100,407.5 L1096.5,408.5 Q1095,410.5 1093,410.5 L1056,410.5 Q1054.6,410.5 1054.6,409 L1054.6,400.5 Q1054.6,399 1056,399 Z" fill="#1e305b" stroke="#e1e6ef" stroke-width="1.55" stroke-linejoin="round" stroke-linecap="round"/>
<path d="M1124.5,393.3 L1160.7,393.3 Q1162.2,393.3 1162.2,394.8 L1162.2,402.1 Q1162.2,403.6 1160.7,403.6 L1124.5,403.6 Q1122.5,403.6 1121.5,401.8 L1118,400.8 L1118,396.5 L1121.5,395.2 Q1122.5,393.3 1124.5,393.3 Z" fill="#1e305b" stroke="#e1e6ef" stroke-width="1.55" stroke-linejoin="round" stroke-linecap="round"/>
<path d="M1096,399 L1100,396 L1104,397 L1106,392 L1108,397 L1113,396 L1118,399 L1119,404 L1114,408 L1110,409.5 L1104,409 L1099,407 Z" fill="none" stroke="#e1e6ef" stroke-width="1.1" stroke-linejoin="round" stroke-linecap="round"/>
<path d="M1103,401 L1108,401 L1108,405 M1110,400 L1113,403 M1101,405 L1106,407" fill="none" stroke="#e1e6ef" stroke-width="1.0" stroke-linejoin="round" stroke-linecap="round"/>
<path d="M1015.50,420.60 C1016.42,422.33 1018.92,427.68 1021.00,431.00 C1023.08,434.32 1025.50,437.67 1028.00,440.50 C1030.50,443.33 1033.17,445.67 1036.00,448.00 C1038.83,450.33 1040.78,452.52 1045.00,454.50 C1049.22,456.48 1053.80,459.05 1061.30,459.90 C1068.80,460.75 1079.80,459.72 1090.00,459.60 C1100.20,459.48 1117.08,459.27 1122.50,459.20 L1164,457.3 Q1166,457.2 1166,455.5 Q1166,453.7 1164,453.8" fill="none" stroke="#e1e6ef" stroke-width="1.2" stroke-linejoin="round" stroke-linecap="round"/>
<path d="M1019.20,420.20 C1020.08,421.83 1022.53,426.95 1024.50,430.00 C1026.47,433.05 1028.67,435.92 1031.00,438.50 C1033.33,441.08 1035.83,443.37 1038.50,445.50 C1041.17,447.63 1043.08,449.45 1047.00,451.30 C1050.92,453.15 1054.83,455.77 1062.00,456.60 C1069.17,457.43 1079.92,456.40 1090.00,456.30 C1100.08,456.20 1117.08,456.05 1122.50,456.00 L1164,453.8" fill="none" stroke="#e1e6ef" stroke-width="1.2" stroke-linejoin="round" stroke-linecap="round"/>
<path d="M1122,454.2 L1126.5,454 L1126.8,461 L1122.3,461.2 Z" fill="none" stroke="#e1e6ef" stroke-width="1.0" stroke-linejoin="round" stroke-linecap="round"/>
<path d="M1125,461 Q1128,464.5 1133,466 L1151,471.4 Q1153.8,472 1154,470 Q1154,468 1151.5,467.3 L1134,462.3 Q1130,461 1127.5,458.5" fill="none" stroke="#e1e6ef" stroke-width="1.2" stroke-linejoin="round" stroke-linecap="round"/>
<path d="M1002.2,402 L1002.2,398.3 Q1002.2,396.3 1004.2,396.3 Q1006.2,396.3 1006.2,398.3 L1006.2,402 M1001.5,402 L1007,402" fill="none" stroke="#e1e6ef" stroke-width="1.0" stroke-linejoin="round" stroke-linecap="round"/>
<path d="M114.5,408.7 L161,409.6 Q163.5,409.8 163.5,411.5 Q163.5,413.4 161,413.5 L114.5,413.3 Q112.8,413.2 112.8,411 Q112.8,408.7 114.5,408.7 Z" fill="none" stroke="#e1e6ef" stroke-width="1.2" stroke-linejoin="round" stroke-linecap="round"/>
<path d="M168.6,410 L168.6,331.2 L173,331.2 L172.5,410" fill="none" stroke="#e1e6ef" stroke-width="1.2" stroke-linejoin="round" stroke-linecap="round"/>
<path d="M177.3,410 L179.9,335.7 M194.5,410 L191.6,335.7 M179.9,335.7 L191.6,335.7" fill="none" stroke="#e1e6ef" stroke-width="1.55" stroke-linejoin="round" stroke-linecap="round"/>
<path d="M184.5,395 a0.9,0.9 0 1 0 1.8,0 a0.9,0.9 0 1 0 -1.8,0" fill="none" stroke="#9aa3b8" stroke-width="0.8" stroke-linejoin="round" stroke-linecap="round"/>
<path d="M180.6,331.6 L180.6,335.7 M191.6,331.6 L191.6,335.7" fill="none" stroke="#e1e6ef" stroke-width="1.2" stroke-linejoin="round" stroke-linecap="round"/>
<path d="M176.5,315.1 L195,315.1 Q197.1,315.1 197.1,317.2 L197.1,329.5 Q197.1,331.6 195,331.6 L176.5,331.6 Q174.4,331.6 174.4,329.5 L174.4,317.2 Q174.4,315.1 176.5,315.1 Z" fill="none" stroke="#e1e6ef" stroke-width="1.4" stroke-linejoin="round" stroke-linecap="round"/>
<path d="M180,308 L192,308 Q194,308 194,310 L194,313 Q194,315 192,315 L180,315 Q178,315 178,313 L178,310 Q178,308 180,308 Z" fill="none" stroke="#e1e6ef" stroke-width="1.4" stroke-linejoin="round" stroke-linecap="round"/>
<path d="M181,312.5 Q186,309 191,312.5" fill="none" stroke="#e1e6ef" stroke-width="1.1" stroke-linejoin="round" stroke-linecap="round"/>
<path d="M178.5,317.8 L193,317.8 M177,320.5 L179,320.5 L179,326 M194.5,320.5 L192.5,320.5 L192.5,326 M180.5,324 Q186,321.5 191,324 M180.5,327 L191,327 M180.5,329.2 L191,329.2" fill="none" stroke="#e1e6ef" stroke-width="1.0" stroke-linejoin="round" stroke-linecap="round"/>
<path d="M185.2,409 L208.5,409.2 C220,409.5 228.5,414 230,430 C231.3,440 231.6,447 231.6,455 L231.2,499 Q230.5,508 226,513 Q221,517.7 212,518 L158.5,518 Q149.5,517.7 144.4,513 Q139.9,508 139.2,499 L138.8,455 C138.8,447 139.1,440 140.4,430 C141.9,414 150.4,409.5 161.9,409.2 Z" fill="none" stroke="#e1e6ef" stroke-width="1.6" stroke-linejoin="round" stroke-linecap="round"/>
<path d="M185.2,417.6 L211,417.8 Q224.5,418.5 227.2,432 Q228.5,440 228.5,455 L228.4,477 Q228.4,481.5 224,482.3 L198.5,488.5 M185.2,417.6 L159.4,417.8 Q145.9,418.5 143.2,432 Q141.9,440 141.9,455 L142,477 Q142,481.5 146.4,482.3 L171.9,488.5" fill="none" stroke="#e1e6ef" stroke-width="1.2" stroke-linejoin="round" stroke-linecap="round"/>
<path d="M183.5,417.6 L183.5,476.5 M186.9,417.6 L186.9,476.5" fill="none" stroke="#e1e6ef" stroke-width="1.1" stroke-linejoin="round" stroke-linecap="round"/>
<path d="M185.2,476.4 L193,481 L197.8,491.7 L195.9,496.4 L174.5,496.4 L172.6,491.7 L177.4,481 Z" fill="none" stroke="#e1e6ef" stroke-width="1.3" stroke-linejoin="round" stroke-linecap="round"/>
<path d="M181.2,490.1 m-2.6,0 a2.6,2.6 0 1 0 5.2,0 a2.6,2.6 0 1 0 -5.2,0 M189.3,490.1 m-2.6,0 a2.6,2.6 0 1 0 5.2,0 a2.6,2.6 0 1 0 -5.2,0" fill="none" stroke="#e1e6ef" stroke-width="1.2" stroke-linejoin="round" stroke-linecap="round"/>
<path d="M179.5,490.1 L182.9,490.1 M187.6,490.1 L191,490.1 M181.2,488.4 L181.2,491.8 M189.3,488.4 L189.3,491.8" fill="none" stroke="#e1e6ef" stroke-width="0.7" stroke-linejoin="round" stroke-linecap="round"/>
<path d="M179,484 L191.4,484" fill="none" stroke="#e1e6ef" stroke-width="0.8" stroke-linejoin="round" stroke-linecap="round"/>
<path d="M144,458 L160,457 Q165,457 167,460 L170,468 M146,462 L146,480 M152,461 L152,483 M160,460 L160,484" fill="none" stroke="#c9cdd6" stroke-width="0.8" stroke-linejoin="round" stroke-linecap="round"/>
<path d="M226.4,458 L210.4,457 Q205.4,457 203.4,460 L200.4,468 M224.4,462 L224.4,480 M218.4,461 L218.4,483 M210.4,460 L210.4,484" fill="none" stroke="#c9cdd6" stroke-width="0.8" stroke-linejoin="round" stroke-linecap="round"/>
<path d="M173.5,476 L173.5,457 Q173.5,451 179,451 L191.4,451 Q196.9,451 196.9,457 L196.9,476" fill="none" stroke="#c9cdd6" stroke-width="0.9" stroke-linejoin="round" stroke-linecap="round"/>
<path d="M177,476 L177,466 L193.4,466 L193.4,476" fill="none" stroke="#c9cdd6" stroke-width="0.8" stroke-linejoin="round" stroke-linecap="round"/>
<path d="M162,468 L167,460 Q168.5,458.5 170,460 Q171,461.5 169.5,463 L164.5,470 Q163,471.5 162,470 Z" fill="none" stroke="#c9cdd6" stroke-width="0.9" stroke-linejoin="round" stroke-linecap="round"/>
<path d="M202,457 Q203.5,455.5 205,457 L206,466 Q206,468 204.5,468 Q203,468 203,466 Z" fill="none" stroke="#c9cdd6" stroke-width="0.9" stroke-linejoin="round" stroke-linecap="round"/>
<path d="M198.8,410.5 L212,410.8 L211.5,414.3 L199,414.3 Z" fill="none" stroke="#e1e6ef" stroke-width="0.9" stroke-linejoin="round" stroke-linecap="round"/>
<path d="M145.1,511.3 L114.9,536.6 M148.6,514.8 L114.9,544" fill="none" stroke="#e1e6ef" stroke-width="1.4" stroke-linejoin="round" stroke-linecap="round"/>
<path d="M225.29999999999998,511.3 L255.49999999999997,536.6 M221.79999999999998,514.8 L255.49999999999997,544" fill="none" stroke="#e1e6ef" stroke-width="1.4" stroke-linejoin="round" stroke-linecap="round"/>
<path d="M108.5,536.1 L113.5,536.1 Q114.9,536.1 114.9,537.5 L114.9,545 Q114.9,548 111,548 Q107,548 107,545 L107,537.5 Q107,536.1 108.5,536.1 Z" fill="none" stroke="#e1e6ef" stroke-width="1.3" stroke-linejoin="round" stroke-linecap="round"/>
<path d="M261.9,536.1 L256.9,536.1 Q255.49999999999997,536.1 255.49999999999997,537.5 L255.49999999999997,545 Q255.49999999999997,548 259.4,548 Q263.4,548 263.4,545 L263.4,537.5 Q263.4,536.1 261.9,536.1 Z" fill="none" stroke="#e1e6ef" stroke-width="1.3" stroke-linejoin="round" stroke-linecap="round"/>
<path d="M140.4,502.4 l0.8,0.8 M230,502.4 l-0.8,0.8" fill="none" stroke="#e1e6ef" stroke-width="2" stroke-linejoin="round" stroke-linecap="round"/>
</svg>
</body></html>
